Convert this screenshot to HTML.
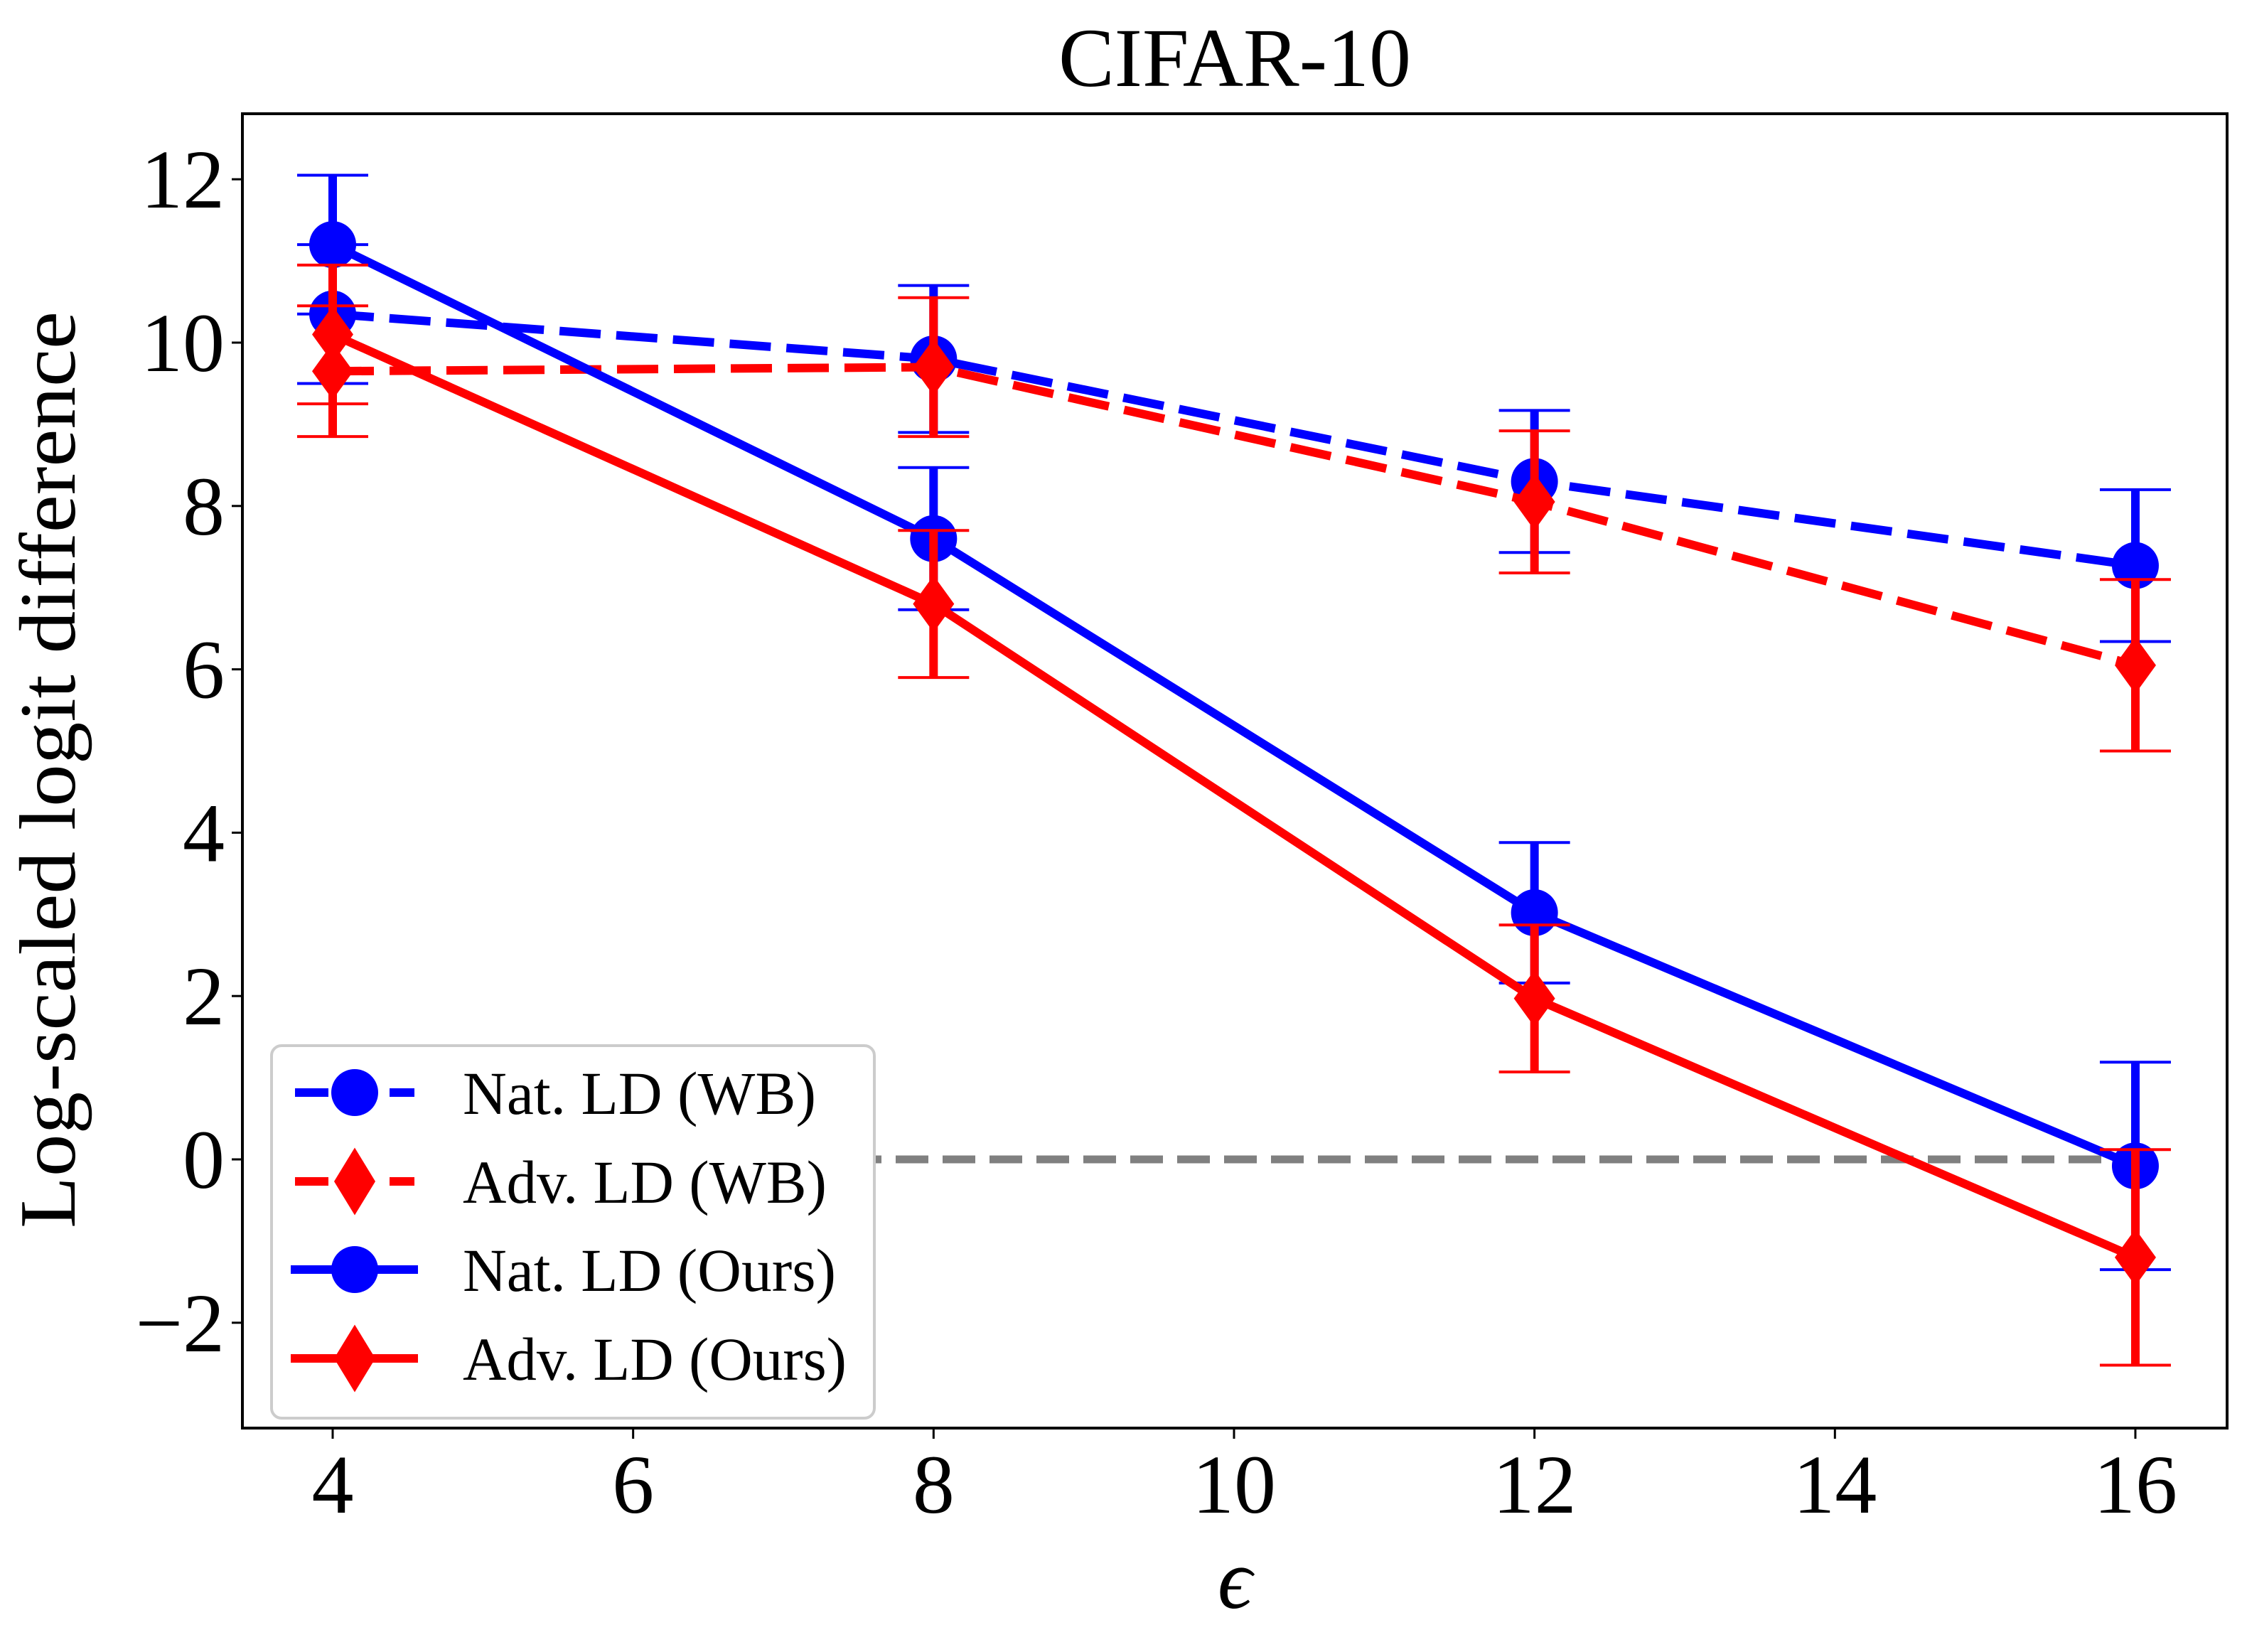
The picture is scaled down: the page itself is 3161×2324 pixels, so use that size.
<!DOCTYPE html>
<html><head><meta charset="utf-8"><style>
html,body{margin:0;padding:0;background:#fff;}
svg{display:block;}
text{font-family:"Liberation Serif",serif;fill:#000;}
</style></head><body>
<svg id="chart" width="3161" height="2324" viewBox="0 0 3161 2324" xmlns="http://www.w3.org/2000/svg">
<rect x="0" y="0" width="3161" height="2324" fill="#fff"/>
<text x="1737" y="121" font-size="118" text-anchor="middle">CIFAR-10</text>
<g id="plot"></g>
<rect x="341" y="160" width="2792" height="1849" fill="none" stroke="#000" stroke-width="4"/>
<g id="ticks"></g>
<text transform="translate(105,1083) rotate(-90)" font-size="112" text-anchor="middle" textLength="1290" lengthAdjust="spacingAndGlyphs">Log-scaled logit difference</text>
<text x="1737" y="2262" font-size="120" font-style="italic" text-anchor="middle">ϵ</text>
<g id="legend"></g>
</svg>
<script>
const eps = [4, 8, 12, 16];
const natWB = [10.35, 9.8, 8.3, 7.27];
const natWBErr = [0.85, 0.9, 0.87, 0.93];
const advWB = [9.65, 9.7, 8.05, 6.05];
const advWBErr = [0.8, 0.85, 0.87, 1.05];
const natOurs = [11.2, 7.6, 3.02, -0.08];
const natOursErr = [0.85, 0.87, 0.86, 1.27];
const advOurs = [10.1, 6.8, 1.97, -1.2];
const advOursErr = [0.85, 0.9, 0.9, 1.32];
const xTicks = [4, 6, 8, 10, 12, 14, 16];
const yTicks = [-2, 0, 2, 4, 6, 8, 10, 12];
const legendLabels = ["Nat. LD (WB)", "Adv. LD (WB)", "Nat. LD (Ours)", "Adv. LD (Ours)"];

const NS = "http://www.w3.org/2000/svg";
const X = v => 468 + (v - 4) * 211.33;
const Y = v => 1631 - v * 114.9;
function mk(tag, attrs, parent) {
  const e = document.createElementNS(NS, tag);
  for (const k in attrs) e.setAttribute(k, attrs[k]);
  parent.appendChild(e);
  return e;
}
const plot = document.getElementById('plot');
const ticks = document.getElementById('ticks');
const legend = document.getElementById('legend');

const zl = mk('line', {x1: X(4), x2: X(16), y1: Y(0), y2: Y(0), stroke: '#808080', 'stroke-width': 11, 'stroke-dasharray': '46 20'}, plot);



function diamond(cx, cy, w, h) {
  return `${cx},${cy - h / 2} ${cx + w / 2},${cy} ${cx},${cy + h / 2} ${cx - w / 2},${cy}`;
}
const series = [
  {vals: natWB, err: natWBErr, color: '#0000ff', dash: '58 22', marker: 'circle', name: 'nat-ld-wb'},
  {vals: advWB, err: advWBErr, color: '#ff0000', dash: '58 22', marker: 'diamond', name: 'adv-ld-wb'},
  {vals: natOurs, err: natOursErr, color: '#0000ff', dash: null, marker: 'circle', name: 'nat-ld-ours'},
  {vals: advOurs, err: advOursErr, color: '#ff0000', dash: null, marker: 'diamond', name: 'adv-ld-ours'}
];
series.forEach(s => {
  const g = mk('g', {}, plot);
  
  
  eps.forEach((e, i) => {
    const x = X(e), top = Y(s.vals[i] + s.err[i]), bot = Y(s.vals[i] - s.err[i]);
    const eb = mk('g', {}, g);
    
    
    mk('line', {x1: x, x2: x, y1: top, y2: bot, stroke: s.color, 'stroke-width': 12}, eb);
    mk('line', {x1: x - 50, x2: x + 50, y1: top, y2: top, stroke: s.color, 'stroke-width': 4}, eb);
    mk('line', {x1: x - 50, x2: x + 50, y1: bot, y2: bot, stroke: s.color, 'stroke-width': 4}, eb);
  });
  const pts = eps.map((e, i) => X(e) + ',' + Y(s.vals[i])).join(' ');
  const la = {points: pts, fill: 'none', stroke: s.color, 'stroke-width': 12};
  if (s.dash) la['stroke-dasharray'] = s.dash;
  const ln = mk('polyline', la, g);
  
  
  eps.forEach((e, i) => {
    let m;
    if (s.marker === 'circle') m = mk('ellipse', {cx: X(e), cy: Y(s.vals[i]), rx: 33, ry: 33, fill: s.color}, g);
    else m = mk('polygon', {points: diamond(X(e), Y(s.vals[i]), 58, 80), fill: s.color}, g);
    
    
  });
});

xTicks.forEach(t => {
  const l = mk('line', {x1: X(t), x2: X(t), y1: 2009, y2: 2024, stroke: '#000', 'stroke-width': 3}, ticks);
  
  
  const tx = mk('text', {x: X(t), y: 2128, 'font-size': 118, 'text-anchor': 'middle'}, ticks);
  tx.textContent = String(t);
  
  
});
yTicks.forEach(t => {
  const l = mk('line', {x1: 326, x2: 341, y1: Y(t), y2: Y(t), stroke: '#000', 'stroke-width': 3}, ticks);
  
  
  const tx = mk('text', {x: 316, y: Y(t) + 40, 'font-size': 118, 'text-anchor': 'end'}, ticks);
  tx.textContent = t < 0 ? '\u2212' + Math.abs(t) : String(t);
  
  
});

const lb = mk('rect', {x: 382, y: 1471, width: 848, height: 524, rx: 14, ry: 14, fill: '#fff', stroke: '#cccccc', 'stroke-width': 4}, legend);


const rowsY = [1537, 1662, 1786, 1911];
const textW = [497, 512, 525, 540];
series.forEach((s, i) => {
  const y = rowsY[i];
  const g = mk('g', {}, legend);
  
  
  if (s.dash) {
    mk('line', {x1: 415, x2: 462, y1: y, y2: y, stroke: s.color, 'stroke-width': 12}, g);
    mk('line', {x1: 548, x2: 583, y1: y, y2: y, stroke: s.color, 'stroke-width': 12}, g);
  } else {
    mk('line', {x1: 409, x2: 588, y1: y, y2: y, stroke: s.color, 'stroke-width': 12}, g);
  }
  if (s.marker === 'circle') mk('ellipse', {cx: 499, cy: y, rx: 33, ry: 33, fill: s.color}, g);
  else mk('polygon', {points: diamond(499, y, 58, 95), fill: s.color}, g);
  const t = mk('text', {x: 651, y: y + 30, 'font-size': 86, textLength: textW[i], lengthAdjust: 'spacingAndGlyphs'}, g);
  t.textContent = legendLabels[i];
});
</script>
</body></html>
